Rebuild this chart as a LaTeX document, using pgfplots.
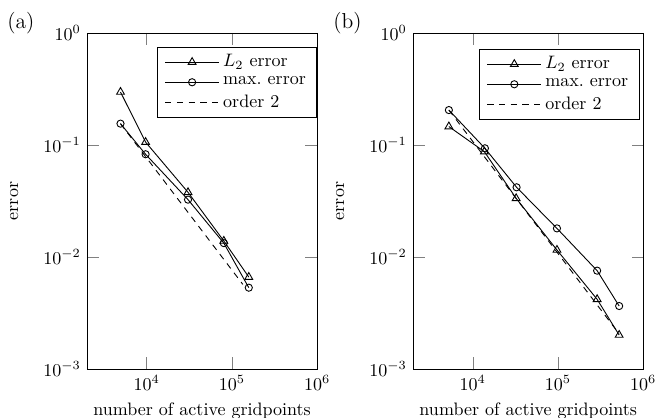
\documentclass[border=0pt]{standalone}
\usepackage{pgfplots}
\pgfplotsset{compat=1.18}
\pgfplotstableread{
x y
4940 0.297
9730 0.106
30600 0.0378
80500 0.0139
158000 0.00662
}\tabAtwo
\pgfplotstableread{
x y
4940 0.155
9730 0.0826
30600 0.0325
80500 0.0133
158000 0.00532
}\tabAmax
\pgfplotstableread{
x y
4940 0.155
134600 0.00569
}\tabAord
\pgfplotstableread{
x y
5250 0.146
13700 0.0871
32300 0.0334
97300 0.01155
288000 0.00419
522000 0.00201
}\tabBtwo
\pgfplotstableread{
x y
5250 0.205
13900 0.0934
32700 0.0419
97300 0.0180
288000 0.00755
522000 0.00365
}\tabBmax
\pgfplotstableread{
x y
5250 0.205
522000 0.00206
}\tabBord
\begin{document}
\begin{tikzpicture}
\useasboundingbox (-48.3pt,-27.2pt) rectangle (316.9pt,204.8pt);
\begin{axis}[xmode=log, ymode=log,
    scale only axis, width=127.7pt, height=186.5pt,
    xmin=2000, xmax=1e6, ymin=1e-3, ymax=1,
    xtick={1e4,1e5,1e6}, ytick={1e-3,1e-2,1e-1,1},
    xminorticks=false, yminorticks=false,
    major tick length=6.5pt,
    xlabel={number of active gridpoints}, ylabel={error},
    xlabel style={at={(axis description cs:0.5,-0.101)}, anchor=north, inner sep=0pt},
    ylabel style={at={(axis description cs:-0.317,0.5)}, anchor=center, inner sep=0pt},
    legend cell align=left,
    legend image code/.code={\draw[mark repeat=2,mark phase=2,#1] plot coordinates {(0pt,0pt) (15pt,0pt) (30pt,0pt)};},
    clip=false,
    legend style={at={(1.0,0.958)}, anchor=north east, draw=black, fill=white, inner xsep=4pt, inner ysep=2pt}]
\addplot[black, line width=0.5pt, mark=triangle, mark size=2.5pt, mark options={solid, fill=white}] table {\tabAtwo};
\addlegendentry{$L_2$ error}
\addplot[black, line width=0.5pt, mark=o, mark size=2pt, mark options={solid, fill=white}] table {\tabAmax};
\addlegendentry{max.\ error}
\addplot[black, line width=0.5pt, dash pattern=on 3.5pt off 3pt] table {\tabAord};
\addlegendentry{order 2}
\node[anchor=west, inner sep=0pt, font=\large] at (rel axis cs:-0.348,1.03) {(a)};
\end{axis}
\begin{axis}[xshift=181pt, xmode=log, ymode=log,
    scale only axis, width=127.7pt, height=186.5pt,
    xmin=2000, xmax=1e6, ymin=1e-3, ymax=1,
    xtick={1e4,1e5,1e6}, ytick={1e-3,1e-2,1e-1,1},
    xminorticks=false, yminorticks=false,
    major tick length=6.5pt,
    xlabel={number of active gridpoints}, ylabel={error},
    xlabel style={at={(axis description cs:0.5,-0.101)}, anchor=north, inner sep=0pt},
    ylabel style={at={(axis description cs:-0.317,0.5)}, anchor=center, inner sep=0pt},
    legend cell align=left,
    legend image code/.code={\draw[mark repeat=2,mark phase=2,#1] plot coordinates {(0pt,0pt) (15pt,0pt) (30pt,0pt)};},
    clip=false,
    legend style={at={(0.983,0.952)}, anchor=north east, draw=black, fill=white, inner xsep=4pt, inner ysep=2pt}]
\addplot[black, line width=0.5pt, mark=triangle, mark size=2.5pt, mark options={solid, fill=white}] table {\tabBtwo};
\addlegendentry{$L_2$ error}
\addplot[black, line width=0.5pt, mark=o, mark size=2pt, mark options={solid, fill=white}] table {\tabBmax};
\addlegendentry{max.\ error}
\addplot[black, line width=0.5pt, dash pattern=on 3.5pt off 3pt] table {\tabBord};
\addlegendentry{order 2}
\node[anchor=west, inner sep=0pt, font=\large] at (rel axis cs:-0.348,1.03) {(b)};
\end{axis}
\end{tikzpicture}
\end{document}
